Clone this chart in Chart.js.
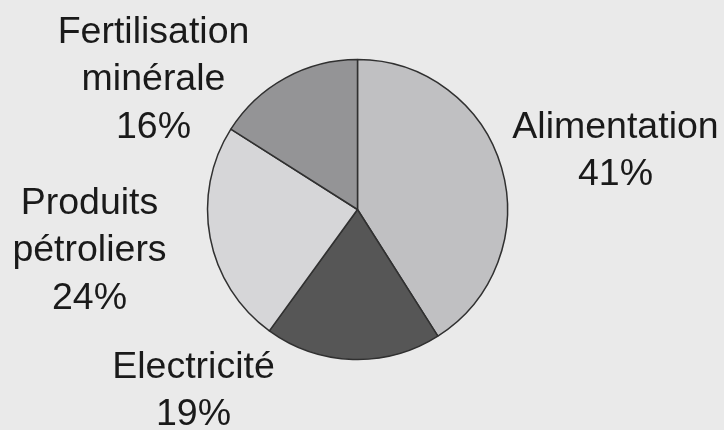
<!DOCTYPE html>
<html>
<head>
<meta charset="utf-8">
<script src="https://cdn.jsdelivr.net/npm/chart.js@4/dist/chart.umd.min.js"></script>
<style>
  html, body { margin: 0; padding: 0; background: #eaeaea; }
  #wrap { width: 724px; height: 430px; position: relative; }
</style>
</head>
<body>
<div id="wrap"><canvas id="pie"></canvas></div>
<script>
// ── Data ─────────────────────────────────────────────────
const labels  = ['Alimentation', 'Electricité', 'Produits pétroliers', 'Fertilisation minérale'];
const values  = [41, 19, 24, 16];
// how each label is broken over lines
const labelLines = [
  ['Alimentation'],
  ['Electricité'],
  ['Produits', 'pétroliers'],
  ['Fertilisation', 'minérale'],
];
const colors = ['#c0c0c2', '#565656', '#d6d6d8', '#949496'];

// label block placement, px from pie centre (x = centre of text, y = first baseline)
const labelOffsets = [
  [258, -72],
  [-164, 168],
  [-268, 4],
  [-204, -167],
];

// ── Outside labels plugin ────────────────────────────────
const outsideLabels = {
  id: 'outsideLabels',
  afterDatasetsDraw(chart) {
    const ctx = chart.ctx;
    const meta = chart.getDatasetMeta(0);
    const lineH = 47.5;
    ctx.save();
    ctx.font = '37.5px "Liberation Sans", Arial, sans-serif';
    ctx.fillStyle = '#1a1a1a';
    ctx.textAlign = 'center';
    ctx.textBaseline = 'alphabetic';
    meta.data.forEach((arc, i) => {
      const { x, y } = arc;
      const [dx, dy] = labelOffsets[i];
      const lines = labelLines[i].concat([values[i] + '%']);
      lines.forEach((t, k) => ctx.fillText(t, x + dx, y + dy + k * lineH));
    });
    ctx.restore();
  }
};

new Chart(document.getElementById('pie'), {
  type: 'pie',
  data: {
    labels,
    datasets: [{
      data: values,
      backgroundColor: colors,
      borderColor: '#303030',
      borderWidth: 1.5,
    }]
  },
  options: {
    responsive: true, maintainAspectRatio: false,
    animation: false,
    radius: 150,
    layout: { padding: { left: 0, right: 9, top: 0, bottom: 11 } },
    plugins: {
      legend: { display: false },
      tooltip: { enabled: false },
    }
  },
  plugins: [outsideLabels]
});
</script>
</body>
</html>
